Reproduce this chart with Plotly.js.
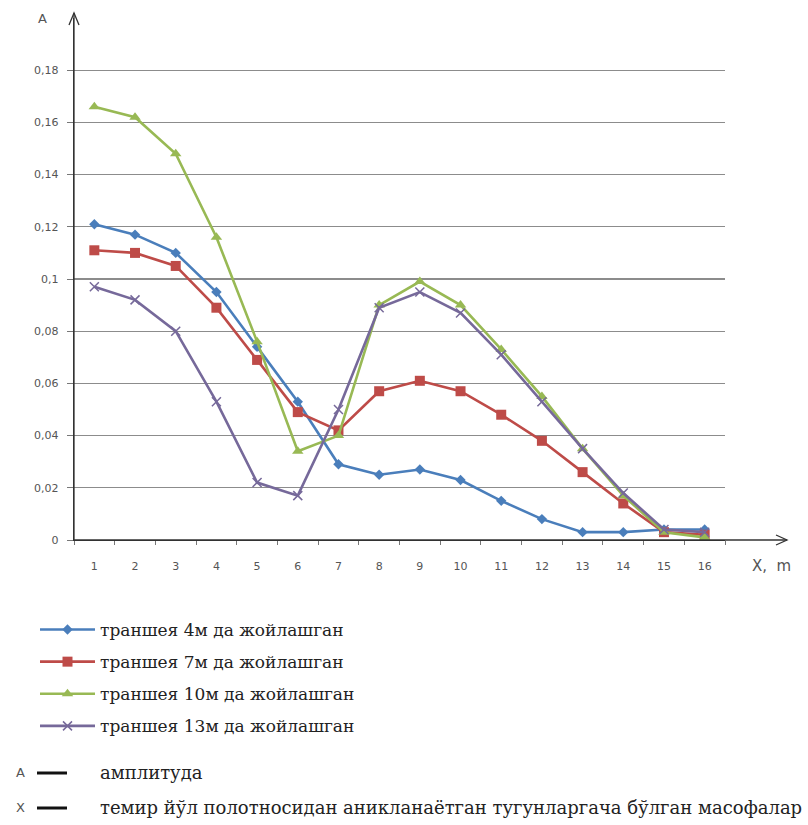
<!DOCTYPE html>
<html>
<head>
<meta charset="utf-8">
<script src="https://cdn.plot.ly/plotly-3.0.1.min.js"></script>
<style>
html,body{margin:0;padding:0;background:#fff;}
#chart{width:808px;height:825px;}
</style>
</head>
<body>
<div id="chart"></div>
<script>
// ---- data ----
const categories = ['1','2','3','4','5','6','7','8','9','10','11','12','13','14','15','16'];
const seriesNames = [
  'траншея 4м да жойлашган',
  'траншея 7м да жойлашган',
  'траншея 10м да жойлашган',
  'траншея 13м да жойлашган'
];
const trench4  = [0.121,0.117,0.110,0.095,0.074,0.053,0.029,0.025,0.027,0.023,0.015,0.008,0.003,0.003,0.004,0.004];
const trench7  = [0.111,0.110,0.105,0.089,0.069,0.049,0.042,0.057,0.061,0.057,0.048,0.038,0.026,0.014,0.003,0.002];
const trench10 = [0.166,0.162,0.148,0.116,0.076,0.034,0.040,0.090,0.099,0.090,0.073,0.055,0.035,0.017,0.003,0.001];
const trench13 = [0.097,0.092,0.080,0.053,0.022,0.017,0.050,0.089,0.095,0.087,0.071,0.053,0.035,0.018,0.004,0.003];
const yTickVals  = [0,0.02,0.04,0.06,0.08,0.1,0.12,0.14,0.16,0.18];
const yTickTexts = ['0','0,02','0,04','0,06','0,08','0,1','0,12','0,14','0,16','0,18'];
const yAxisLabel = 'A';
const xAxisLabel = 'X,  m';
const noteA = 'амплитуда';
const noteX = 'темир йўл полотносидан аникланаётган тугунларгача бўлган масофалар';

// ---- geometry helpers (pixel -> paper) ----
const W = 808, H = 825;
const L = 74, R = 725, T = 18, B = 540;
const px = v => (v - L) / (R - L);
const py = v => (B - v) / (B - T);

const serif = 'DejaVu Serif';
const sans = 'DejaVu Sans';

function mk(name, y, color, symbol, size, extra) {
  return Object.assign({
    type: 'scatter', mode: 'lines+markers', name: name,
    x: categories, y: y, legendgroup: name,
    line: {color: color, width: 2.6},
    marker: {symbol: symbol, size: size, color: color}
  }, extra || {});
}

const traces = [
  mk(seriesNames[0], trench4, '#4A7EBB', 'diamond', 8),
  mk(seriesNames[1], trench7, '#BE4B48', 'square', 10),
  mk(seriesNames[2], trench10, '#98B954', 'triangle-up', 10),
  mk(seriesNames[3], trench13, '#76699A', 'x-thin-open', 9, {marker:{symbol:'x-thin-open', size:9, color:'#76699A', line:{color:'#76699A', width:1.5}}})
];

const shapes = [
  // y axis extension + arrow
  {type:'line', xref:'paper', yref:'paper', x0:0, x1:0, y0:py(540), y1:py(13), line:{color:'#333', width:1.3}},
  {type:'path', xref:'paper', yref:'paper', path:`M ${px(69)} ${py(25)} L ${px(74)} ${py(13)} L ${px(79)} ${py(25)}`, line:{color:'#333', width:1.3}},
  // x axis extension + arrow
  {type:'line', xref:'paper', yref:'paper', x0:0, x1:px(787), y0:0, y1:0, line:{color:'#333', width:1.3}},
  {type:'path', xref:'paper', yref:'paper', path:`M ${px(776)} ${py(535)} L ${px(787)} ${py(540)} L ${px(776)} ${py(545)}`, line:{color:'#333', width:1.3}},
  // note lines
  {type:'line', xref:'paper', yref:'paper', x0:px(37), x1:px(67), y0:py(773), y1:py(773), line:{color:'#111', width:3}},
  {type:'line', xref:'paper', yref:'paper', x0:px(37), x1:px(67), y0:py(808), y1:py(808), line:{color:'#111', width:3}}
];

const annotations = [
  {xref:'paper', yref:'paper', x:px(36), y:py(18), xanchor:'left', yanchor:'middle', text:yAxisLabel, showarrow:false, font:{family:sans, size:13, color:'#555'}},
  {xref:'paper', yref:'paper', x:px(750), y:py(566), xanchor:'left', yanchor:'middle', text:xAxisLabel, showarrow:false, font:{family:sans, size:15, color:'#555'}},
  {xref:'paper', yref:'paper', x:px(14), y:py(772), xanchor:'left', yanchor:'middle', text:'A', showarrow:false, font:{family:sans, size:13, color:'#555'}},
  {xref:'paper', yref:'paper', x:px(98), y:py(772), xanchor:'left', yanchor:'middle', text:noteA, showarrow:false, font:{family:serif, size:18, color:'#222'}},
  {xref:'paper', yref:'paper', x:px(14), y:py(807), xanchor:'left', yanchor:'middle', text:'X', showarrow:false, font:{family:sans, size:13, color:'#555'}},
  {xref:'paper', yref:'paper', x:px(98), y:py(807), xanchor:'left', yanchor:'middle', text:noteX, showarrow:false, font:{family:serif, size:18, color:'#222'}}
];

const layout = {
  width: W, height: H,
  margin: {l: L, r: W - R, t: T, b: H - B},
  paper_bgcolor: '#fff', plot_bgcolor: '#fff',
  showlegend: true,
  legend: {
    x: px(35), y: py(612), xanchor: 'left', yanchor: 'top',
    font: {family: serif, size: 17, color: '#222'},
    itemwidth: 55, tracegroupgap: 7, bgcolor: 'rgba(0,0,0,0)',
    traceorder: 'grouped'
  },
  xaxis: {
    type: 'category', range: [-0.5, 15.5],
    showgrid: false, zeroline: false, showline: true, linecolor: '#333', linewidth: 1.3,
    ticks: 'outside', tickson: 'boundaries', ticklen: 4, tickcolor: '#777',
    ticklabelstandoff: 15,
    tickfont: {family: sans, size: 11, color: '#555'}
  },
  yaxis: {
    range: [0, 0.2], tickvals: yTickVals, ticktext: yTickTexts,
    showgrid: true, gridcolor: '#8c8c8c', gridwidth: 1.3,
    zeroline: false, showline: true, linecolor: '#333', linewidth: 1.3,
    ticks: 'outside', ticklen: 6, tickcolor: '#777',
    ticklabelstandoff: 6,
    tickfont: {family: sans, size: 11, color: '#555'}
  },
  shapes: shapes,
  annotations: annotations
};

Plotly.newPlot('chart', traces, layout, {displayModeBar: false, staticPlot: true});
</script>
</body>
</html>
